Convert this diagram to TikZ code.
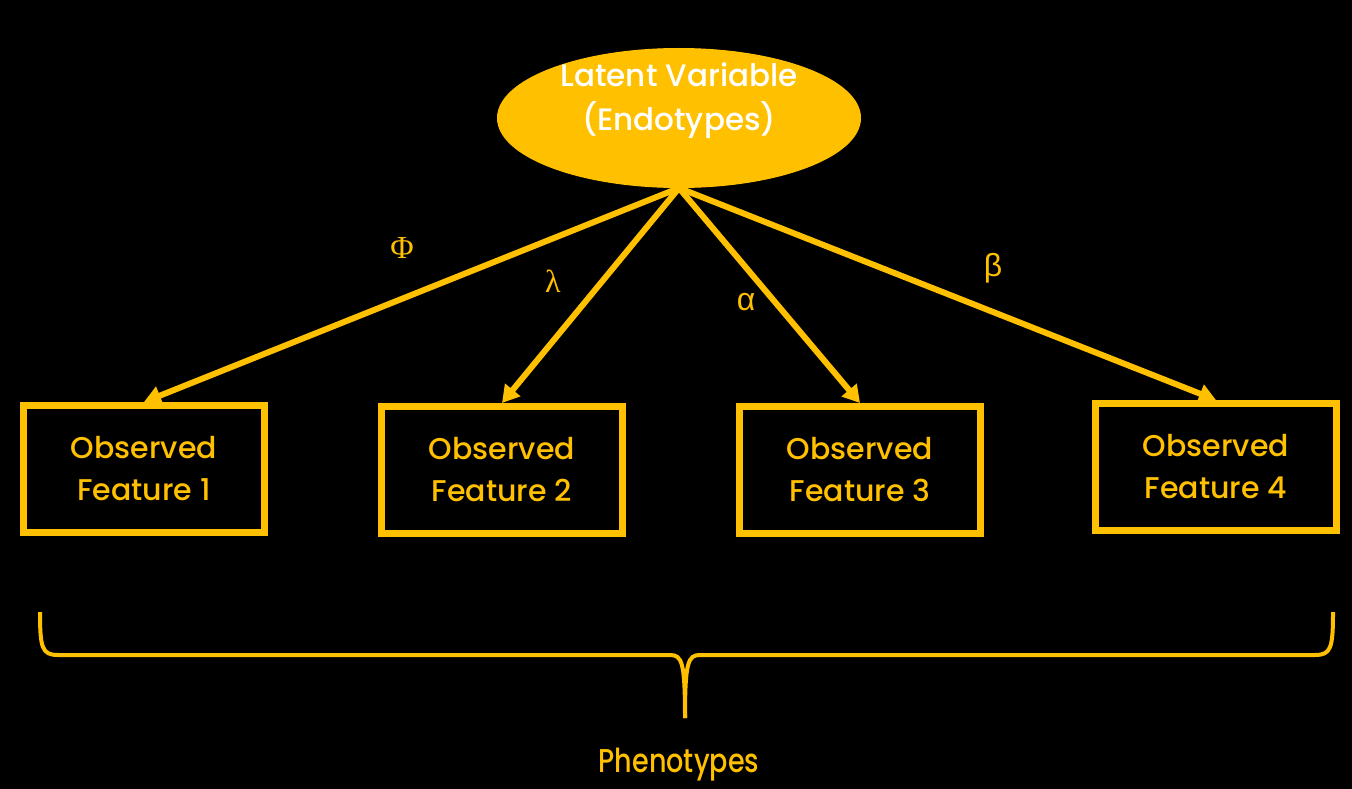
\documentclass[tikz,border=0pt]{standalone}
\usepackage{fontspec}
\setmainfont{Poppins}[UprightFont={* Medium}]
\newfontfamily\greekserif{Liberation Serif}
\newfontfamily\greeksans{Liberation Sans}
\usetikzlibrary{arrows.meta,shapes.geometric,positioning}
\definecolor{gold}{HTML}{FFC000}

\begin{document}
\begin{tikzpicture}[x=1pt,y=-1pt,->,>={Triangle[length=17pt,width=19pt]},line width=6pt,draw=gold,
    main node/.style={ellipse,fill=gold,draw=gold,line width=1pt,minimum width=363pt,minimum height=139pt},
    main text/.style={align=center,text=white,font=\fontsize{31}{44}\selectfont},
    feature node/.style={rectangle,draw=gold,line width=7pt,minimum width=241pt,minimum height=127pt,align=center,text=gold,font=\fontsize{30}{42}\selectfont},
    greek node/.style={text=gold,font=\fontsize{32}{36}\selectfont}]
            \fill[black] (0,0) rectangle (1352,789);
            \useasboundingbox (0,0) rectangle (1352,789);

            \node[main node] (0) at (679,118) {};
            \node[main text] (0t) at (679,101) {Latent Variable\\(Endotypes)};

            \node[feature node] (1) at (144,469) {Observed\\Feature 1};
            \node[feature node] (2) at (502,470) {Observed\\Feature 2};
            \node[feature node] (3) at (860,470) {Observed\\Feature 3};
            \node[feature node] (4) at (1216,467) {Observed\\Feature 4};

            \node[greek node] (phi) at (402,248) {\greekserif Φ};
            \node[greek node] (lambda) at (553,281) {\greekserif λ};
            \node[greek node] (alpha) at (746,302) {\greeksans α};
            \node[greek node] (beta) at (993,268) {\greeksans β};

            \path[gold]
                (0.south) edge (1.north)
                (0.south) edge (2.north)
                (0.south) edge (3.north)
                (0.south) edge (4.north)
            ;

            % brace under the features
            \draw[-,gold,line width=4pt] (40,612) .. controls (40,648) and (42,655) .. (58,655)
                -- (670,655) .. controls (682,655) and (685,662) .. (685,718);
            \draw[-,gold,line width=4pt] (1333,612) .. controls (1333,648) and (1331,655) .. (1315,655)
                -- (700,655) .. controls (688,655) and (685,662) .. (685,718);

            \node[text=gold,font=\fontsize{33}{36}\selectfont,xscale=0.82] (pheno) at (679,765) {Phenotypes};
\end{tikzpicture}
\end{document}
